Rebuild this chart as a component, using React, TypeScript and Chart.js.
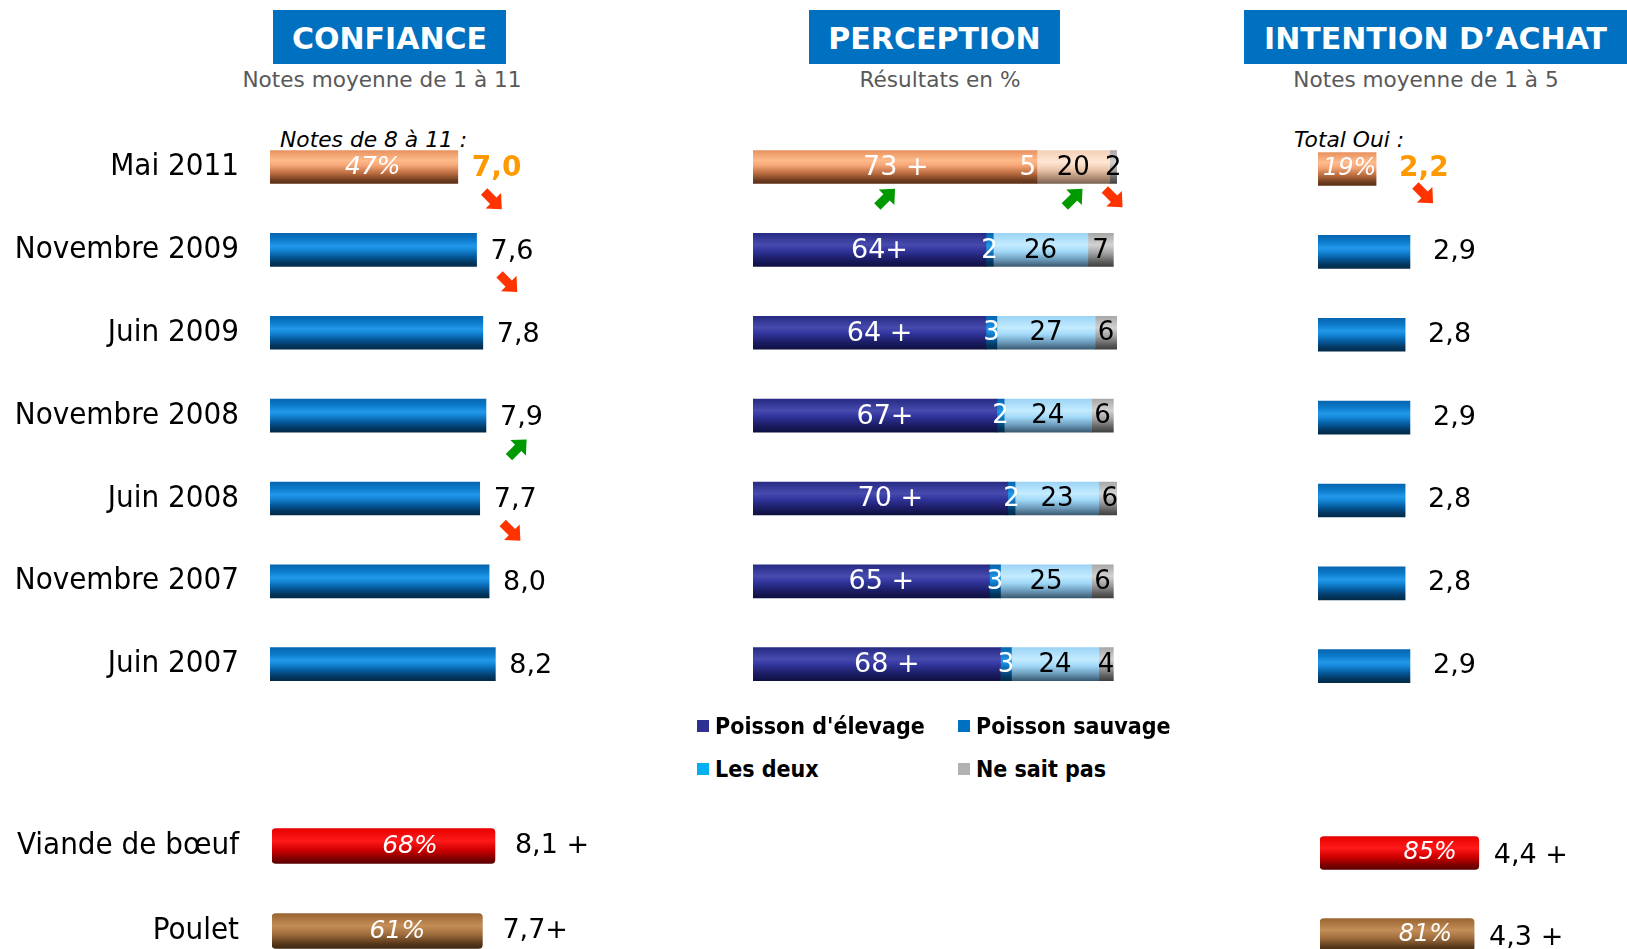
import React, { useEffect, useRef } from 'react';
import { Chart, registerables } from 'chart.js';
Chart.register(...registerables);

// ---------------- data ----------------
const periods = ['Mai 2011', 'Novembre 2009', 'Juin 2009', 'Novembre 2008', 'Juin 2008', 'Novembre 2007', 'Juin 2007'];
const foods = ['Viande de bœuf', 'Poulet'];

const confianceNotes = [7.0, 7.6, 7.8, 7.9, 7.7, 8.0, 8.2];
const confianceShare = [47, null, null, null, null, null, null];
const confianceTrend = ['down', 'down', null, 'up', 'down', null, null];
const confianceFoodNotes = [8.1, 7.7];
const confianceFoodShare = [68, 61];
const confianceFoodSig = [' +', '+'];

const perceptionNames = ["Poisson d'élevage", 'Poisson sauvage', 'Les deux', 'Ne sait pas'];
const elevage = [73, 64, 64, 67, 70, 65, 68];
const sauvage = [5, 2, 3, 2, 2, 3, 3];
const lesDeux = [20, 26, 27, 24, 23, 25, 24];
const neSaitPas = [2, 7, 6, 6, 6, 6, 4];
const elevageSig = [' +', '+', ' +', '+', ' +', ' +', ' +'];
const elevageTrend = ['up', null, null, null, null, null, null];
const sauvageTrend = [null, null, null, null, null, null, null];
const lesDeuxTrend = ['up', null, null, null, null, null, null];
const neSaitPasTrend = ['down', null, null, null, null, null, null];

const intentionNotes = [2.2, 2.9, 2.8, 2.9, 2.8, 2.8, 2.9];
const intentionShare = [19, null, null, null, null, null, null];
const intentionTrend = ['down', null, null, null, null, null, null];
const intentionFoodNotes = [4.4, 4.3];
const intentionFoodShare = [85, 81];
const intentionFoodSig = [' +', ' +'];

// ---------------- styles ----------------
const SANS = '"DejaVu Sans", Verdana, sans-serif';
const COND = '"DejaVu Sans Condensed", "DejaVu Sans", sans-serif';

type Stops = [number, string][];
const BLUE: Stops = [[0, '#0766B0'], [0.2, '#0C7BCB'], [0.38, '#2298EA'], [0.5, '#1587D8'], [0.7, '#055A9C'], [0.88, '#033760'], [1, '#022A48']];
const ORANGE: Stops = [[0, '#E8925F'], [0.3, '#FFBB8C'], [0.45, '#F6A676'], [0.7, '#B86A3E'], [0.9, '#6E3C1F'], [1, '#5A2F16']];
const PEACH: Stops = [[0, '#F3D0B6'], [0.35, '#FFE7D4'], [0.6, '#E8C3A8'], [0.85, '#A88670'], [1, '#7A6050']];
const NAVY: Stops = [[0, '#272B84'], [0.35, '#474BAE'], [0.5, '#3337A0'], [0.75, '#1E206C'], [1, '#0E1040']];
const SKY: Stops = [[0, '#9CD4F5'], [0.35, '#C4EBFF'], [0.55, '#A2D9F8'], [0.8, '#6A98B8'], [1, '#3A5A70']];
const GRAY: Stops = [[0, '#A8A8A8'], [0.35, '#D2D2D2'], [0.6, '#A2A2A2'], [0.85, '#606060'], [1, '#404040']];
const RED: Stops = [[0, '#E80000'], [0.35, '#FF1A1A'], [0.6, '#D40000'], [0.85, '#820000'], [1, '#5A0000']];
const BROWN: Stops = [[0, '#9A6432'], [0.35, '#C48E58'], [0.6, '#9E6C3C'], [0.85, '#5A3A1C'], [1, '#3E2812']];

const perceptionStops: Stops[] = [NAVY, BLUE, SKY, GRAY];
const perceptionMaiStops: Stops[] = [ORANGE, ORANGE, PEACH, GRAY];
const legendColors = ['#2E3092', '#0070C0', '#00B0F0', '#B2B2B2'];

const glossFill = (stopsFor: (i: number) => Stops, thickness: number) => (c: any) => {
  const chart = c.chart;
  const ys = chart.scales && chart.scales.y;
  const stops = stopsFor(c.dataIndex == null ? 1 : c.dataIndex);
  if (!chart.chartArea || !ys || c.dataIndex == null) return stops[2][1];
  const cy = ys.getPixelForValue(c.dataIndex);
  const g = chart.ctx.createLinearGradient(0, cy - thickness / 2, 0, cy + thickness / 2);
  stops.forEach(([o, col]) => g.addColorStop(o, col));
  return g;
};

const fmt = (v: number) => v.toFixed(1).replace('.', ',');

function drawArrow(ctx: CanvasRenderingContext2D, x: number, y: number, dir: string) {
  ctx.save();
  ctx.translate(x, y);
  ctx.rotate(dir === 'up' ? -Math.PI / 4 : Math.PI / 4);
  ctx.fillStyle = dir === 'up' ? '#009A00' : '#FF3300';
  ctx.beginPath();
  ctx.moveTo(-12, -4.5);
  ctx.lineTo(1, -4.5);
  ctx.lineTo(1, -11);
  ctx.lineTo(13, 0);
  ctx.lineTo(1, 11);
  ctx.lineTo(1, 4.5);
  ctx.lineTo(-12, 4.5);
  ctx.closePath();
  ctx.fill();
  ctx.restore();
}

// ---------------- label plugins ----------------
const confianceTopLabels = {
  id: 'confianceTopLabels',
  afterDatasetsDraw(chart: any) {
    const ctx = chart.ctx;
    chart.getDatasetMeta(0).data.forEach((bar: any, i: number) => {
      ctx.save();
      const hi = i === 0;
      ctx.font = hi ? `bold 28px ${SANS}` : `27px ${SANS}`;
      ctx.fillStyle = hi ? '#FF9900' : '#000';
      ctx.textAlign = 'left';
      ctx.textBaseline = 'middle';
      const text = fmt(confianceNotes[i]);
      const lx = bar.x + 14;
      ctx.fillText(text, lx, bar.y + 2);
      const w = ctx.measureText(text).width;
      if (confianceShare[i] != null) {
        ctx.font = `italic 25px ${SANS}`;
        ctx.fillStyle = '#fff';
        ctx.textAlign = 'center';
        ctx.fillText(`${confianceShare[i]}%`, bar.x - 85, bar.y);
      }
      if (confianceTrend[i]) drawArrow(ctx, lx + w / 2 - 4, bar.y + 33, confianceTrend[i] as string);
      ctx.restore();
    });
  },
};

const confianceFoodLabels = {
  id: 'confianceFoodLabels',
  afterDatasetsDraw(chart: any) {
    const ctx = chart.ctx;
    chart.getDatasetMeta(0).data.forEach((bar: any, i: number) => {
      ctx.save();
      ctx.textBaseline = 'middle';
      ctx.font = `27px ${SANS}`;
      ctx.fillStyle = '#000';
      ctx.textAlign = 'left';
      ctx.fillText(fmt(confianceFoodNotes[i]) + confianceFoodSig[i], bar.x + 20, bar.y);
      ctx.font = `italic 25px ${SANS}`;
      ctx.fillStyle = '#fff';
      ctx.textAlign = 'center';
      ctx.fillText(`${confianceFoodShare[i]}%`, bar.x - 85, bar.y);
      ctx.restore();
    });
  },
};

const perceptionLabels = {
  id: 'perceptionLabels',
  afterDatasetsDraw(chart: any) {
    const ctx = chart.ctx;
    const trends = [elevageTrend, sauvageTrend, lesDeuxTrend, neSaitPasTrend];
    const series = [elevage, sauvage, lesDeux, neSaitPas];
    series.forEach((vals, k) => {
      chart.getDatasetMeta(k).data.forEach((bar: any, i: number) => {
        ctx.save();
        ctx.textBaseline = 'middle';
        ctx.textAlign = 'center';
        const cx = (bar.base + bar.x) / 2;
        if (k === 0) {
          ctx.font = `27px ${SANS}`;
          ctx.fillStyle = '#fff';
          ctx.fillText(`${vals[i]}${elevageSig[i]}`, cx + 10, bar.y + 1);
        } else {
          ctx.font = `26px ${SANS}`;
          ctx.fillStyle = k === 1 ? '#fff' : '#000';
          ctx.fillText(`${vals[i]}`, cx, bar.y + 1);
        }
        const t = trends[k][i];
        if (t) drawArrow(ctx, cx, bar.y + 31, t as string);
        ctx.restore();
      });
    });
  },
};

const intentionTopLabels = {
  id: 'intentionTopLabels',
  afterDatasetsDraw(chart: any) {
    const ctx = chart.ctx;
    chart.getDatasetMeta(0).data.forEach((bar: any, i: number) => {
      ctx.save();
      const hi = i === 0;
      ctx.font = hi ? `bold 28px ${SANS}` : `27px ${SANS}`;
      ctx.fillStyle = hi ? '#FF9900' : '#000';
      ctx.textAlign = 'left';
      ctx.textBaseline = 'middle';
      const text = fmt(intentionNotes[i]);
      const lx = bar.x + 23;
      ctx.fillText(text, lx, bar.y);
      const w = ctx.measureText(text).width;
      if (intentionShare[i] != null) {
        ctx.font = `italic 24px ${SANS}`;
        ctx.fillStyle = '#fff';
        ctx.textAlign = 'left';
        ctx.fillText(`${intentionShare[i]}%`, bar.base + 5, bar.y);
      }
      if (intentionTrend[i]) drawArrow(ctx, lx + w / 2, bar.y + 25, intentionTrend[i] as string);
      ctx.restore();
    });
  },
};

const intentionFoodLabels = {
  id: 'intentionFoodLabels',
  afterDatasetsDraw(chart: any) {
    const ctx = chart.ctx;
    chart.getDatasetMeta(0).data.forEach((bar: any, i: number) => {
      ctx.save();
      ctx.textBaseline = 'middle';
      ctx.font = `27px ${SANS}`;
      ctx.fillStyle = '#000';
      ctx.textAlign = 'left';
      ctx.fillText(fmt(intentionFoodNotes[i]) + intentionFoodSig[i], bar.x + 15, bar.y + 3);
      ctx.font = `italic 24px ${SANS}`;
      ctx.fillStyle = '#fff';
      ctx.textAlign = 'right';
      ctx.fillText(`${intentionFoodShare[i]}%`, bar.x - 22, bar.y);
      ctx.restore();
    });
  },
};

// ---------------- configs ----------------
const hiddenPlugins = { legend: { display: false }, tooltip: { enabled: false } };

const labelAxis = (width: number, padding: number) => ({
  afterFit: (s: any) => {
    s.width = width;
    s.paddingTop = 0;
    s.paddingBottom = 0;
  },
  grid: { display: false, drawTicks: false },
  border: { display: false },
  ticks: { color: '#000', autoSkip: false, padding, font: { family: COND, size: 31 } },
});

const confianceTopConfig = (): any => ({
  type: 'bar',
  data: {
    labels: periods,
    datasets: [{ data: confianceNotes, base: 1, backgroundColor: glossFill((i) => (i === 0 ? ORANGE : BLUE), 33), barThickness: 33, borderWidth: 0 }],
  },
  options: {
    indexAxis: 'y', animation: false, responsive: false,
    layout: { padding: { left: 0, right: 57, top: 25.6, bottom: 34.4 } },
    scales: { x: { display: false, min: 1, max: 11 }, y: labelAxis(270, 31) },
    plugins: hiddenPlugins,
  },
  plugins: [confianceTopLabels],
});

const confianceFoodConfig = (): any => ({
  type: 'bar',
  data: {
    labels: foods,
    datasets: [{ data: confianceFoodNotes, base: 1, backgroundColor: glossFill((i) => (i === 0 ? RED : BROWN), 35), barThickness: 35, borderWidth: 0, borderRadius: 4, borderSkipped: false }],
  },
  options: {
    indexAxis: 'y', animation: false, responsive: false,
    layout: { padding: { left: 0, right: 54, top: 43.5, bottom: 16.5 } },
    scales: { x: { display: false, min: 1, max: 11 }, y: labelAxis(272, 33) },
    plugins: hiddenPlugins,
  },
  plugins: [confianceFoodLabels],
});

const perceptionConfig = (): any => ({
  type: 'bar',
  data: {
    labels: periods,
    datasets: [elevage, sauvage, lesDeux, neSaitPas].map((d, k) => ({
      label: perceptionNames[k],
      data: d,
      backgroundColor: glossFill((i) => (i === 0 ? perceptionMaiStops[k] : perceptionStops[k]), 33),
      barThickness: 33,
      borderWidth: 0,
    })),
  },
  options: {
    indexAxis: 'y', animation: false, responsive: false,
    layout: { padding: { left: 113, right: 83, top: 25.6, bottom: 34.4 } },
    scales: { x: { display: false, stacked: true, min: 0, max: 100 }, y: { display: false, stacked: true } },
    plugins: hiddenPlugins,
  },
  plugins: [perceptionLabels],
});

const intentionTopConfig = (): any => ({
  type: 'bar',
  data: {
    labels: periods,
    datasets: [{ data: intentionNotes, base: 1, backgroundColor: glossFill((i) => (i === 0 ? ORANGE : BLUE), 33), barThickness: 33, borderWidth: 0 }],
  },
  options: {
    indexAxis: 'y', animation: false, responsive: false,
    layout: { padding: { left: 118, right: 115.4, top: 25.6, bottom: 34.4 } },
    scales: { x: { display: false, min: 1, max: 5 }, y: { display: false } },
    plugins: hiddenPlugins,
  },
  plugins: [intentionTopLabels],
});

const intentionFoodConfig = (): any => ({
  type: 'bar',
  data: {
    labels: foods,
    datasets: [{ data: intentionFoodNotes, base: 1, backgroundColor: glossFill((i) => (i === 0 ? RED : BROWN), 33), barThickness: 33, borderWidth: 0, borderRadius: 4, borderSkipped: false }],
  },
  options: {
    indexAxis: 'y', animation: false, responsive: false,
    layout: { padding: { left: 120, right: 120.2, top: 52, bottom: 24 } },
    scales: { x: { display: false, min: 1, max: 5 }, y: { display: false } },
    plugins: hiddenPlugins,
  },
  plugins: [intentionFoodLabels],
});

// ---------------- components ----------------
function ChartBox({ left, top, width, height, make }: { left: number; top: number; width: number; height: number; make: () => any }) {
  const ref = useRef<HTMLCanvasElement>(null);
  useEffect(() => {
    const chart = new Chart(ref.current as HTMLCanvasElement, make());
    return () => chart.destroy();
  }, []);
  return (
    <canvas
      ref={ref}
      width={width}
      height={height}
      style={{ position: 'absolute', left, top, width, height, display: 'block' }}
    />
  );
}

function Header({ left, width, text }: { left: number; width: number; text: string }) {
  return (
    <div style={{ position: 'absolute', left, top: 10, width, height: 54, background: '#0070C0', color: '#fff', font: `bold 30px ${SANS}`, lineHeight: '58px', textAlign: 'center', whiteSpace: 'nowrap', overflow: 'hidden' }}>
      {text}
    </div>
  );
}

function Sub({ cx, text }: { cx: number; text: string }) {
  return (
    <div style={{ position: 'absolute', left: cx - 200, top: 67, width: 400, lineHeight: '26px', textAlign: 'center', color: '#595959', font: `21.6px ${SANS}` }}>
      {text}
    </div>
  );
}

export default function App() {
  const legendPos = [
    { x: 697, y: 726 },
    { x: 958, y: 726 },
    { x: 697, y: 769 },
    { x: 958, y: 769 },
  ];
  return (
    <div style={{ position: 'fixed', left: 0, top: 0, width: 1627, height: 949, overflow: 'hidden', background: '#fff' }}>
      <Header left={273} width={233} text="CONFIANCE" />
      <Header left={809} width={251} text="PERCEPTION" />
      <Header left={1244} width={383} text="INTENTION D’ACHAT" />
      <Sub cx={382} text="Notes moyenne de 1 à 11" />
      <Sub cx={940} text="Résultats en %" />
      <Sub cx={1426} text="Notes moyenne de 1 à 5" />
      <div style={{ position: 'absolute', left: 280, top: 127, lineHeight: '26px', font: `italic 21.8px ${SANS}`, color: '#000' }}>Notes de 8 à 11 :</div>
      <div style={{ position: 'absolute', left: 1294, top: 127, lineHeight: '26px', font: `italic 21.8px ${SANS}`, color: '#000' }}>Total Oui :</div>

      <ChartBox left={0} top={100} width={640} height={640} make={confianceTopConfig} />
      <ChartBox left={0} top={760} width={640} height={230} make={confianceFoodConfig} />
      <ChartBox left={640} top={100} width={560} height={640} make={perceptionConfig} />
      <ChartBox left={1200} top={102} width={427} height={640} make={intentionTopConfig} />
      <ChartBox left={1200} top={760} width={427} height={240} make={intentionFoodConfig} />

      {perceptionNames.map((name, k) => (
        <div key={name} style={{ position: 'absolute', left: legendPos[k].x, top: legendPos[k].y - 15, height: 30, display: 'flex', alignItems: 'center', whiteSpace: 'nowrap' }}>
          <span style={{ display: 'inline-block', width: 12, height: 12, background: legendColors[k], marginRight: 6 }} />
          <span style={{ font: `bold 23px ${COND}`, color: '#000' }}>{name}</span>
        </div>
      ))}
    </div>
  );
}
